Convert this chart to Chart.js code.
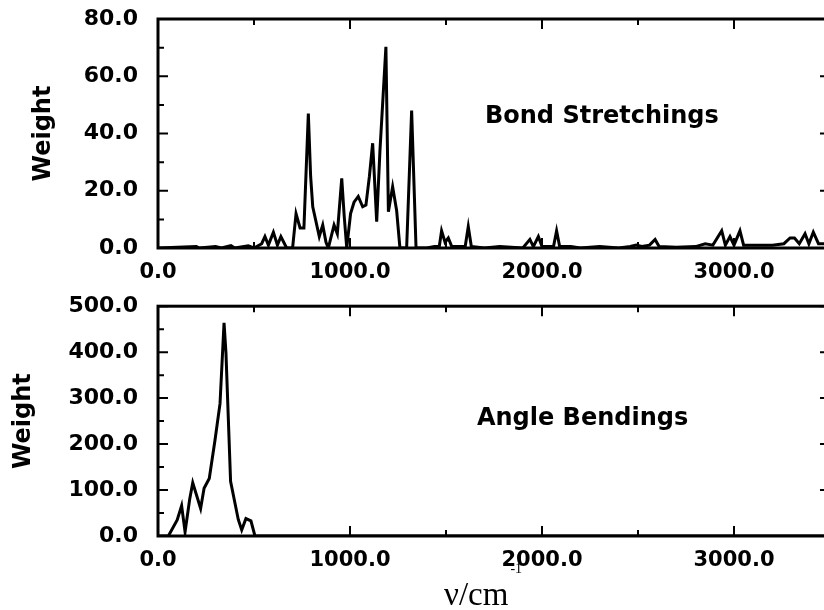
<!DOCTYPE html>
<html>
<head>
<meta charset="utf-8">
<script src="https://cdn.jsdelivr.net/npm/chart.js@4.4.1/dist/chart.umd.min.js"></script>
<style>
  html, body { margin: 0; padding: 0; background: #fff; overflow: hidden; width: 824px; height: 610px; }
  canvas { position: absolute; left: 0; }
  #bondChart { top: 0; }
  #angleChart { top: 290px; }
</style>
</head>
<body>
<canvas id="bondChart" width="834" height="290"></canvas>
<canvas id="angleChart" width="834" height="320"></canvas>
<script>
// frequencies (cm^-1) and weights
var bondFreq = [0, 200, 215, 300, 330, 380, 400, 470, 500, 540, 557, 575, 601, 622, 640, 670,
  701, 719, 740, 760, 783, 795, 806, 840, 858, 875, 887, 917, 934, 957, 970, 983,
  1003, 1021, 1043, 1066, 1083, 1101, 1118, 1139, 1156, 1187, 1200, 1222, 1243, 1260,
  1295, 1321, 1344, 1400, 1440, 1465, 1477, 1495, 1512, 1530, 1600, 1616, 1632, 1700, 1780,
  1900, 1937, 1955, 1981, 2000, 2060, 2076, 2092, 2150, 2200, 2300, 2400, 2460, 2490, 2520, 2560, 2589,
  2610, 2700, 2800, 2850, 2890, 2936, 2955, 2979, 3000, 3031, 3050, 3100, 3150, 3200, 3260, 3292, 3315,
  3340, 3370, 3390, 3413, 3440, 3500];
var bondWeight = [0, 0.5, 0, 0.5, 0, 0.8, 0, 0.8, 0, 1.5, 4, 1, 5.5, 1, 4, 0,
  0, 12, 7, 7, 47, 25, 14.4, 4, 8, 2, 0, 8, 5, 24.3, 11, 0,
  12, 16, 18, 14.4, 15, 25, 36.6, 9.2, 34, 70.3, 12.7, 21.4, 13, 0,
  0, 48, 0, 0, 0.5, 0.5, 6, 2, 3.5, 0.5, 0.5, 7.5, 0.5, 0, 0.5,
  0, 3, 0.5, 4, 0.5, 0.5, 6, 0.5, 0.5, 0, 0.5, 0, 0.5, 1, 0.5, 1, 3,
  0.5, 0.3, 0.5, 1.5, 1, 6, 1, 4, 1, 6, 1, 1, 1, 1, 1.5, 3.5, 3.5,
  1.5, 5, 1.5, 5.5, 1.5, 1.5];

var angleFreq = [0, 54, 100, 123, 141, 165, 181, 222, 240, 267, 297, 323, 344, 354, 378, 418, 436, 458, 484, 505, 3500];
var angleWeight = [0, 0, 35, 66, 9, 80, 116, 60, 104, 125, 209, 288, 464, 398, 119, 36, 13, 38, 33, 0, 0];

var xTicks = [0, 1000, 2000, 3000];
var xMinor = [500, 1500, 2500, 3500];
var bondYTicks = [0, 20, 40, 60, 80];
var bondYMinor = [10, 30, 50, 70];
var angleYTicks = [0, 100, 200, 300, 400, 500];
var angleYMinor = [50, 150, 250, 350, 450];

var FONT = "'DejaVu Sans', sans-serif";

function points(xs, ys) {
  return xs.map(function (x, i) { return {x: x, y: ys[i]}; });
}

// frame with inward ticks on all four sides, plus text labels
var framePlugin = {
  id: 'frame',
  afterDatasetsDraw: function (chart, args, opts) {
    var ctx = chart.ctx, a = chart.chartArea, sx = chart.scales.x, sy = chart.scales.y;
    ctx.save();
    ctx.strokeStyle = '#000';
    ctx.lineWidth = 3;
    ctx.strokeRect(a.left, a.top, a.right - a.left, a.bottom - a.top);
    ctx.lineWidth = 2;
    ctx.beginPath();
    function xt(v, len) {
      var p = sx.getPixelForValue(v);
      ctx.moveTo(p, a.bottom); ctx.lineTo(p, a.bottom - len);
      ctx.moveTo(p, a.top); ctx.lineTo(p, a.top + len);
    }
    function yt(v, len) {
      var p = sy.getPixelForValue(v);
      ctx.moveTo(a.left, p); ctx.lineTo(a.left + len, p);
      ctx.moveTo(a.right, p); ctx.lineTo(a.right - len, p);
    }
    xTicks.forEach(function (v) { xt(v, 10); });
    xMinor.forEach(function (v) { xt(v, 6); });
    opts.yMajor.forEach(function (v) { yt(v, 10); });
    opts.yMinor.forEach(function (v) { yt(v, 6); });
    ctx.stroke();

    ctx.fillStyle = '#000';
    ctx.font = 'bold 24px ' + FONT;
    ctx.textAlign = 'left';
    ctx.textBaseline = 'middle';
    ctx.fillText(opts.label, sx.getPixelForValue(opts.labelX), sy.getPixelForValue(opts.labelY));

    if (opts.xTitle) {
      ctx.textBaseline = 'alphabetic';
      ctx.font = "33px 'Liberation Serif', serif";
      ctx.fillText('ν/cm', 444, 315);
      var w = ctx.measureText('ν/cm').width;
      ctx.font = "14px 'Liberation Serif', serif";
      ctx.fillText('-1', 444 + w + 2, 283);
    }
    ctx.restore();
  }
};

function makeChart(id, xs, ys, yMax, yMajor, yMinor, opts) {
  var h = document.getElementById(id).height;
  return new Chart(document.getElementById(id), {
    type: 'line',
    data: {
      datasets: [{
        data: points(xs, ys),
        borderColor: '#000',
        borderWidth: 3,
        pointRadius: 0,
        tension: 0,
        fill: false
      }]
    },
    options: {
      responsive: false,
      animation: false,
      events: [],
      layout: {padding: {top: opts.top, right: 4, left: 0, bottom: 0}},
      plugins: {
        legend: {display: false},
        tooltip: {enabled: false},
        frame: {yMajor: yMajor, yMinor: yMinor, label: opts.label, labelX: opts.labelX,
                labelY: opts.labelY, xTitle: opts.xTitle}
      },
      scales: {
        x: {
          type: 'linear',
          min: 0,
          max: 3500,
          grid: {display: false, drawTicks: true, tickLength: 9},
          border: {display: false},
          afterBuildTicks: function (s) { s.ticks = xTicks.map(function (v) { return {value: v}; }); },
          afterFit: function (s) { s.height = h - opts.bottom; },
          ticks: {
            color: '#000',
            padding: 3,
            maxRotation: 0,
            autoSkip: false,
            font: {family: FONT, weight: 'bold', size: 21},
            callback: function (v) { return v.toFixed(1); }
          }
        },
        y: {
          min: 0,
          max: yMax,
          grid: {display: false, drawTicks: true, tickLength: 17},
          border: {display: false},
          afterBuildTicks: function (s) { s.ticks = yMajor.map(function (v) { return {value: v}; }); },
          afterFit: function (s) { s.width = 158; },
          ticks: {
            color: '#000',
            padding: 3,
            font: {family: FONT, weight: 'bold', size: 22},
            callback: function (v) { return v.toFixed(1); }
          },
          title: {
            display: true,
            text: 'Weight',
            color: '#000',
            padding: {top: opts.titlePad, bottom: 0},
            font: {family: FONT, weight: 'bold', size: 24}
          }
        }
      }
    },
    plugins: [framePlugin]
  });
}

makeChart('bondChart', bondFreq, bondWeight, 80, bondYTicks, bondYMinor,
  {top: 19, bottom: 248, titlePad: 29, label: 'Bond Stretchings', labelX: 1703, labelY: 46});
makeChart('angleChart', angleFreq, angleWeight, 500, angleYTicks, angleYMinor,
  {top: 16, bottom: 246, titlePad: 9, label: 'Angle Bendings', labelX: 1661, labelY: 256, xTitle: true});
</script>
</body>
</html>
